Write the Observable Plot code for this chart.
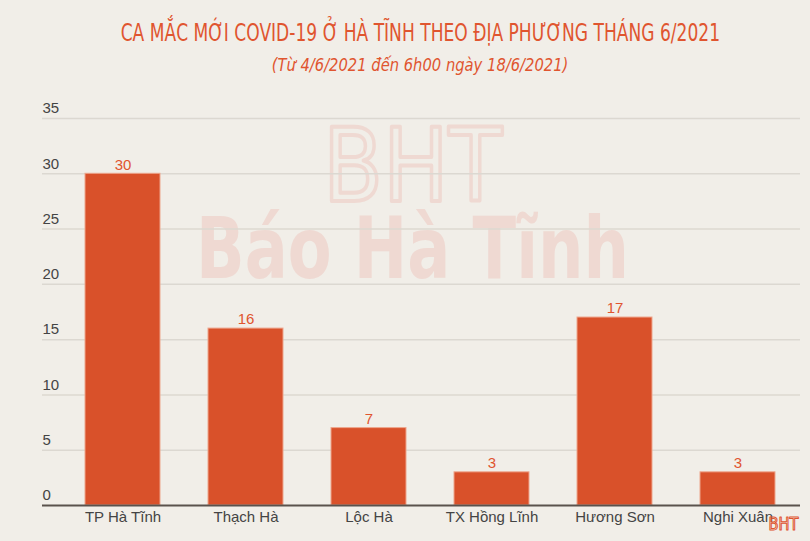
<!DOCTYPE html>
<html>
<head>
<meta charset="utf-8">
<script src="https://cdn.jsdelivr.net/npm/d3@7"></script>
<script src="https://cdn.jsdelivr.net/npm/@observablehq/plot@0.6"></script>
<style>
  html, body { margin: 0; padding: 0; background: #f1eee8; }
  #wrap { width: 810px; height: 541px; overflow: hidden; background: #f1eee8; position: relative; }
  .hdr { position: relative; left: 15px; width: 810px; text-align: center; white-space: nowrap; color: #e0552f;
    font-family: "DejaVu Sans Condensed", "DejaVu Sans", sans-serif; }
  .hdr span { display: inline-block; transform-origin: center; }
  #title { height: 54px; line-height: 66px; font-size: 25px; }
  #title span { transform: scaleX(0.76); }
  #subtitle { height: 36px; line-height: 22px; font-size: 18px; font-style: italic; }
  #subtitle span { transform: scaleX(0.91); }
  svg { display: block; }
</style>
</head>
<body>
<div id="wrap">
  <div id="title" class="hdr"><span>CA MẮC MỚI COVID-19 Ở HÀ TĨNH THEO ĐỊA PHƯƠNG THÁNG 6/2021</span></div>
  <div id="subtitle" class="hdr"><span>(Từ 4/6/2021 đến 6h00 ngày 18/6/2021)</span></div>
  <div id="chart"></div>
</div>
<script>
const categories = ["TP Hà Tĩnh", "Thạch Hà", "Lộc Hà", "TX Hồng Lĩnh", "Hương Sơn", "Nghi Xuân"];
const cases = [30, 16, 7, 3, 17, 3];
const yTicks = [0, 5, 10, 15, 20, 25, 30, 35];

const data = categories.map((c, i) => ({ area: c, value: cases[i] }));

const barColor = "#d9512a";
const labelColor = "#e0552f";
const tickColor = "#444444";
const gridColor = "#dcd8d1";
const wmColor = "#efd9d2";

const chart = Plot.plot({
  width: 810,
  height: 451,
  marginLeft: 42,
  marginRight: 10,
  marginTop: 28,
  marginBottom: 36,
  style: { background: "transparent", fontFamily: "'Liberation Sans', Arial, sans-serif" },
  x: { domain: categories, paddingInner: 0.39, paddingOuter: 0.264, align: 0.63, label: null },
  y: { domain: [0, 35], label: null, axis: null },
  marks: [
    // watermark
    Plot.text(["Báo Hà Tĩnh"], { frameAnchor: "top", dx: -9, dy: 98, text: d => d, fill: wmColor,
      fontSize: 86, fontWeight: 900, fontFamily: "'DejaVu Sans Condensed', 'DejaVu Sans', sans-serif",
      lineAnchor: "top", className: "wm-main" }),
    Plot.text(["BHT"], { frameAnchor: "top", dx: -9, dy: 10, text: d => d, fill: "none", stroke: wmColor,
      strokeWidth: 4, fontSize: 102, fontWeight: 400, fontFamily: "'DejaVu Sans', sans-serif",
      lineAnchor: "top", className: "wm-logo" }),
    Plot.ruleY(yTicks.filter(d => d > 0), { stroke: gridColor, strokeWidth: 1.5 }),
    Plot.text(yTicks, { y: d => d, text: d => String(d), frameAnchor: "left", textAnchor: "start",
      dy: -10, fill: tickColor, fontSize: 15 }),
    Plot.barY(data, { x: "area", y: "value", fill: barColor, stroke: "#eea58c", strokeWidth: 1 }),
    Plot.text(data, { x: "area", y: "value", text: d => String(d.value), dy: -9, fill: labelColor, fontSize: 15 }),
    Plot.ruleY([0], { stroke: "#5a524c", strokeWidth: 2 }),
    Plot.axisX({ tickSize: 0, tickPadding: 6, fontSize: 15, fill: tickColor, label: null }),
    Plot.text(["BHT"], { frameAnchor: "bottom-right", dx: -2, dy: 24, text: d => d, fill: "none",
      stroke: "#e0552f", strokeWidth: 1, fontSize: 17, fontFamily: "'DejaVu Sans Condensed', sans-serif",
      textAnchor: "end", className: "wm-small" })
  ]
});
document.getElementById("chart").appendChild(chart);

// stretch watermark texts to their widths
const fit = (cls, w) => {
  chart.querySelectorAll("." + cls + " text").forEach(t => {
    t.setAttribute("textLength", w);
    t.setAttribute("lengthAdjust", "spacingAndGlyphs");
  });
};
fit("wm-main", 433);
fit("wm-logo", 179);
fit("wm-small", 30);
</script>
</body>
</html>
